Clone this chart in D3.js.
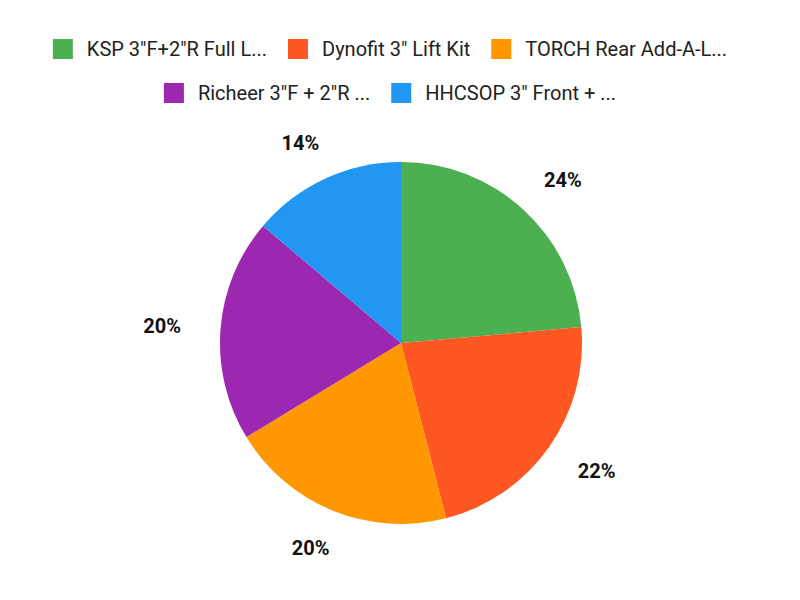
<!DOCTYPE html>
<html>
<head>
<meta charset="utf-8">
<script src="https://cdn.jsdelivr.net/npm/d3@7"></script>
<style>
  body { margin: 0; background: #fff; }
  text { font-family: Roboto, "Noto Sans", sans-serif; }
</style>
</head>
<body>
<div id="chart"></div>
<script>
// data
const labels = ["KSP 3\"F+2\"R Full L...", "Dynofit 3\" Lift Kit", "TORCH Rear Add-A-L...",
                "Richeer 3\"F + 2\"R ...", "HHCSOP 3\" Front + ..."];
const values = [23.6, 22.4, 20.3, 19.9, 13.8];
const colors = ["#4caf50", "#ff5722", "#ff9800", "#9c27b0", "#2196f3"];
const legendRows = [[0, 1, 2], [3, 4]];

const width = 800, height = 600;
const cx = 401, cy = 343, radius = 181;

let svg = d3.select("#chart").append("svg")
    .attr("width", width)
    .attr("height", height)
    .attr("viewBox", "0 0 " + width + " " + height);

// legend
const legendCenter = 390;
legendRows.forEach((row, ri) => {
    let g = svg.append("g");
    let x = 0;
    row.forEach(i => {
        let item = g.append("g").attr("transform", "translate(" + x + ",0)");
        item.append("rect")
            .attr("x", 0).attr("y", 0)
            .attr("width", 20).attr("height", 20)
            .attr("fill", colors[i]);
        let t = item.append("text")
            .attr("x", 34).attr("y", 10)
            .attr("dominant-baseline", "central")
            .attr("font-size", 20)
            .attr("fill", "#222")
            .text(labels[i]);
        x += 34 + t.node().getComputedTextLength() + 21;
    });
    let total = x - 21;
    g.attr("transform", "translate(" + (legendCenter - total / 2) + "," + (39 + ri * 44) + ")");
});

// pie
let pie = d3.pie().sort(null).value(d => d);
let arc = d3.arc().innerRadius(0).outerRadius(radius);
let total = d3.sum(values);
let arcs = pie(values);

let pg = svg.append("g").attr("transform", "translate(" + cx + "," + cy + ")");
pg.selectAll("path")
    .data(arcs)
    .enter().append("path")
    .attr("d", arc)
    .attr("fill", (d, i) => colors[i]);

// percent labels outside the slices
const labelR = radius * 1.22;
pg.selectAll("text.pct")
    .data(arcs)
    .enter().append("text")
    .attr("class", "pct")
    .attr("font-size", 20)
    .attr("font-weight", "bold")
    .attr("fill", "#111")
    .attr("dominant-baseline", "central")
    .text(d => Math.round(d.value / total * 100) + "%")
    .each(function (d) {
        let a = (d.startAngle + d.endAngle) / 2;
        let w = this.getComputedTextLength();
        let x = labelR * Math.sin(a) + (w / 2) * Math.sin(a);
        let y = -labelR * Math.cos(a);
        d3.select(this).attr("x", x).attr("y", y).attr("text-anchor", "middle");
    });
</script>
</body>
</html>
